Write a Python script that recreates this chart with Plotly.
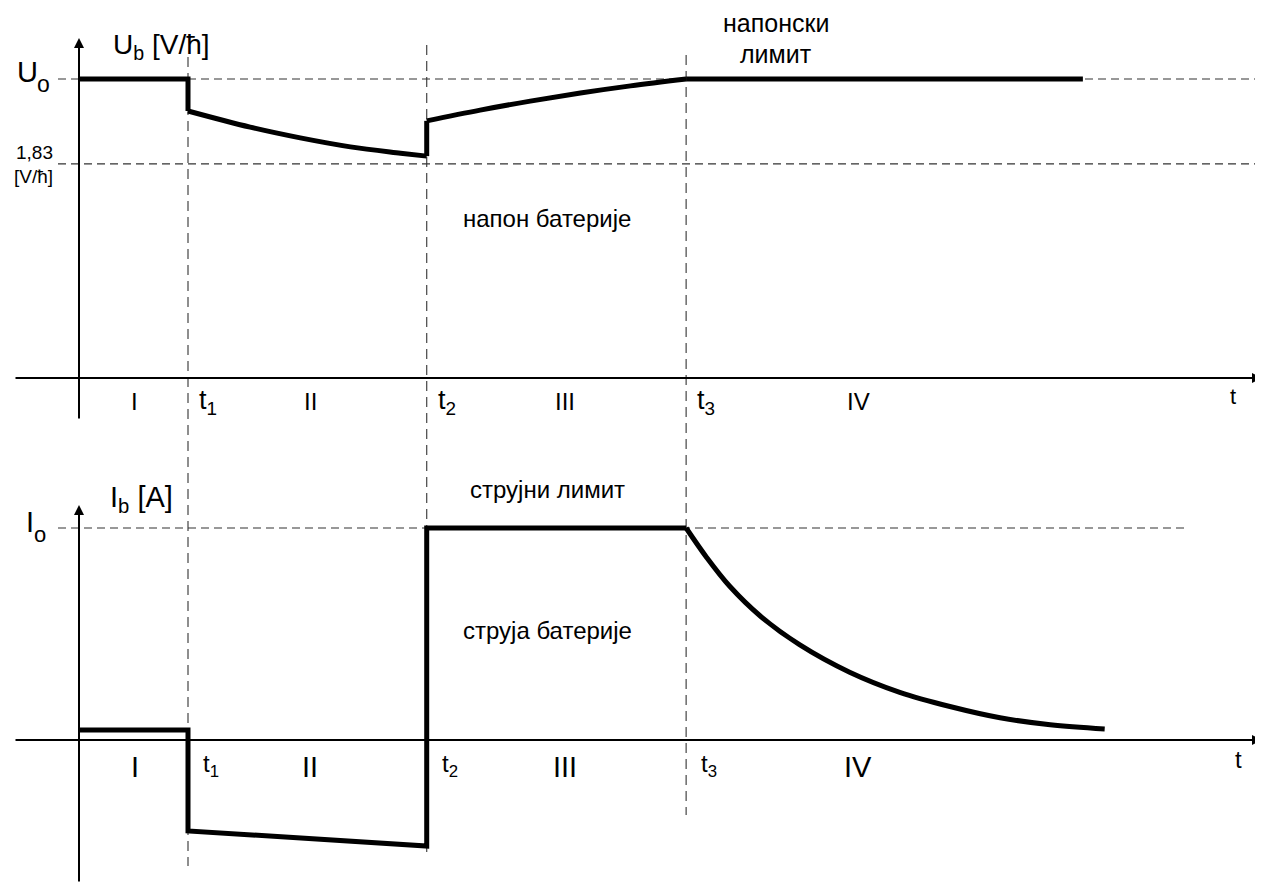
import plotly.graph_objects as go

W, H = 1263, 885
OFF = 8  # page body margin in the browser

# ---------------- data (time in arbitrary units, t1 = 1) ----------------
T1, T2, T3 = 1.0, 3.19, 5.57
phase_labels = ["I", "II", "III", "IV"]
phase_centers = [0.51, 2.12, 4.46, 7.15]
t_marks = [T1, T2, T3]
t_mark_labels = ["t<sub>1</sub>", "t<sub>2</sub>", "t<sub>3</sub>"]

# voltage (relative to Uo)
U_O = 1.0
U_LIM = 0.716          # 1,83 V/cell level
u_I_t, u_I = [0.0, T1, T1], [1.0, 1.0, 0.893]
u_II_t = [1.0, 1.57, 2.03, 2.49, 2.95, 3.19]
u_II = [0.893, 0.839, 0.803, 0.773, 0.752, 0.742]
u_jump_t, u_jump = [T2, T2], [0.742, 0.860]
u_III_t = [3.19, 3.68, 4.14, 4.60, 5.06, 5.57]
u_III = [0.860, 0.896, 0.926, 0.953, 0.977, 1.0]
u_IV_t, u_IV = [T3, 9.21], [1.0, 1.0]

# current (relative to Io)
I_O = 1.0
i_step_t = [0.0, T1, T1, T2, T2, T3]
i_step = [0.047, 0.047, -0.429, -0.50, 1.0, 1.0]
i_IV_t = [5.57, 5.76, 5.97, 6.25, 6.61, 7.07, 7.53, 7.99, 8.45, 8.91, 9.41]
i_IV = [1.0, 0.86, 0.725, 0.585, 0.45, 0.32, 0.225, 0.158, 0.105, 0.072, 0.052]

# ---------------- geometry helpers (screen pixels) ----------------
X0_PX, X_SCALE = 79, 109.0          # t = 0 at screen x 79
U0_PY, U_SCALE = 378, 299.0         # U = 0 at screen y 378
I0_PY, I_SCALE = 740, 212.0         # I = 0 at screen y 740

def tx(px):
    return (px - X0_PX) / X_SCALE

def uy(py):
    return (U0_PY - py) / U_SCALE

def iy(py):
    return (I0_PY - py) / I_SCALE

def paper(x, y):
    return (x - OFF) / W, 1 - (y - OFF) / H

FONT = "Liberation Sans, Arial, sans-serif"
LW = 5

fig = go.Figure()

def add_line(x, y, yaxis="y", shape="linear"):
    fig.add_trace(go.Scatter(x=x, y=y, mode="lines", yaxis=yaxis,
                             line=dict(color="black", width=LW, shape=shape, smoothing=1.0),
                             hoverinfo="skip", showlegend=False))

add_line(u_I_t, u_I)
add_line(u_II_t, u_II, shape="spline")
add_line(u_jump_t, u_jump)
add_line(u_III_t, u_III, shape="spline")
add_line(u_IV_t, u_IV)
add_line(i_step_t, i_step, yaxis="y2")
add_line(i_IV_t, i_IV, yaxis="y2", shape="spline")

x_range = [tx(OFF), tx(OFF + W)]
u_range = [uy(OFF + H), uy(OFF)]
i_range = [iy(OFF + H), iy(OFF)]

DASH = dict(color="#333333", width=1.2, dash="8px,5px")
VDASH = dict(color="#444444", width=1.2, dash="10px,6px")
shapes = []
shapes.append(dict(type="line", xref="x", yref="y", x0=tx(58), x1=tx(1263), y0=U_O, y1=U_O, line=DASH, layer="below"))
shapes.append(dict(type="line", xref="x", yref="y", x0=tx(58), x1=tx(1263), y0=U_LIM, y1=U_LIM, line=DASH, layer="below"))
shapes.append(dict(type="line", xref="x", yref="y2", x0=tx(58), x1=tx(1185), y0=I_O, y1=I_O, line=DASH, layer="below"))
for t, (ytop, ybot) in zip(t_marks, [(57, 866), (45, 852), (55, 815)]):
    _, p0 = paper(0, ytop)
    _, p1 = paper(0, ybot)
    shapes.append(dict(type="line", xref="x", yref="paper", x0=t, x1=t,
                       y0=p0, y1=p1, line=VDASH, layer="below"))

ann = []
def arrow(xh, yh, xt, yt, yref):
    ann.append(dict(x=xh, y=yh, ax=xt, ay=yt, xref="x", yref=yref, axref="x", ayref=yref,
                    text="", showarrow=True, arrowhead=2, arrowsize=1.0, arrowwidth=2,
                    arrowcolor="black", standoff=0, startstandoff=0))

arrow(0, uy(38), 0, uy(420), "y")
arrow(tx(1262), 0, tx(14), 0, "y")
arrow(0, iy(505), 0, iy(883), "y2")
arrow(tx(1262), 0, tx(14), 0, "y2")

def text(s, x, y, size, xanchor="center", yanchor="middle"):
    px, py = paper(x, y)
    ann.append(dict(x=px, y=py, xref="paper", yref="paper", text=s, showarrow=False,
                    xanchor=xanchor, yanchor=yanchor,
                    font=dict(family=FONT, size=size, color="black")))

# top chart labels
text("U", 15, 72, 29, xanchor="left")
text("o", 35, 84, 23, xanchor="left")
text("U<sub>b</sub> [V/ћ]", 111, 47, 28, xanchor="left")
text("1,83", 34, 153, 19)
text("[V/ћ]", 33, 177, 19)
text("напонски", 776, 23, 25)
text("лимит", 776, 54, 25)
text("напон батерије", 547, 219, 24)
text("t", 1233, 396, 22)
# bottom chart labels
text("I<sub>b</sub> [A]", 108, 499, 29, xanchor="left")
text("I", 24, 522, 29, xanchor="left")
text("o", 32, 534, 22, xanchor="left")
text("струјни лимит", 547, 489, 24)
text("струја батерије", 547, 630, 24)
text("t", 1238, 759, 24)

for lab, c in zip(phase_labels, phase_centers):
    text(lab, X0_PX + c * X_SCALE, 401, 24)
    text(lab, X0_PX + c * X_SCALE, 767, 29)
for t, lab in zip(t_marks, t_mark_labels):
    text(lab, X0_PX + t * X_SCALE + 9, 402, 27, xanchor="left")
    text(lab, X0_PX + t * X_SCALE + 13, 765, 24, xanchor="left")

hidden = dict(visible=False, showgrid=False, zeroline=False, fixedrange=True)
fig.update_layout(
    width=W, height=H,
    margin=dict(l=0, r=0, t=0, b=0),
    paper_bgcolor="white", plot_bgcolor="white",
    xaxis=dict(range=x_range, **hidden),
    yaxis=dict(range=u_range, domain=[0, 1], **hidden),
    yaxis2=dict(range=i_range, domain=[0, 1], overlaying="y", anchor="x", **hidden),
    shapes=shapes, annotations=ann, showlegend=False,
)

fig.write_html("out.html")
